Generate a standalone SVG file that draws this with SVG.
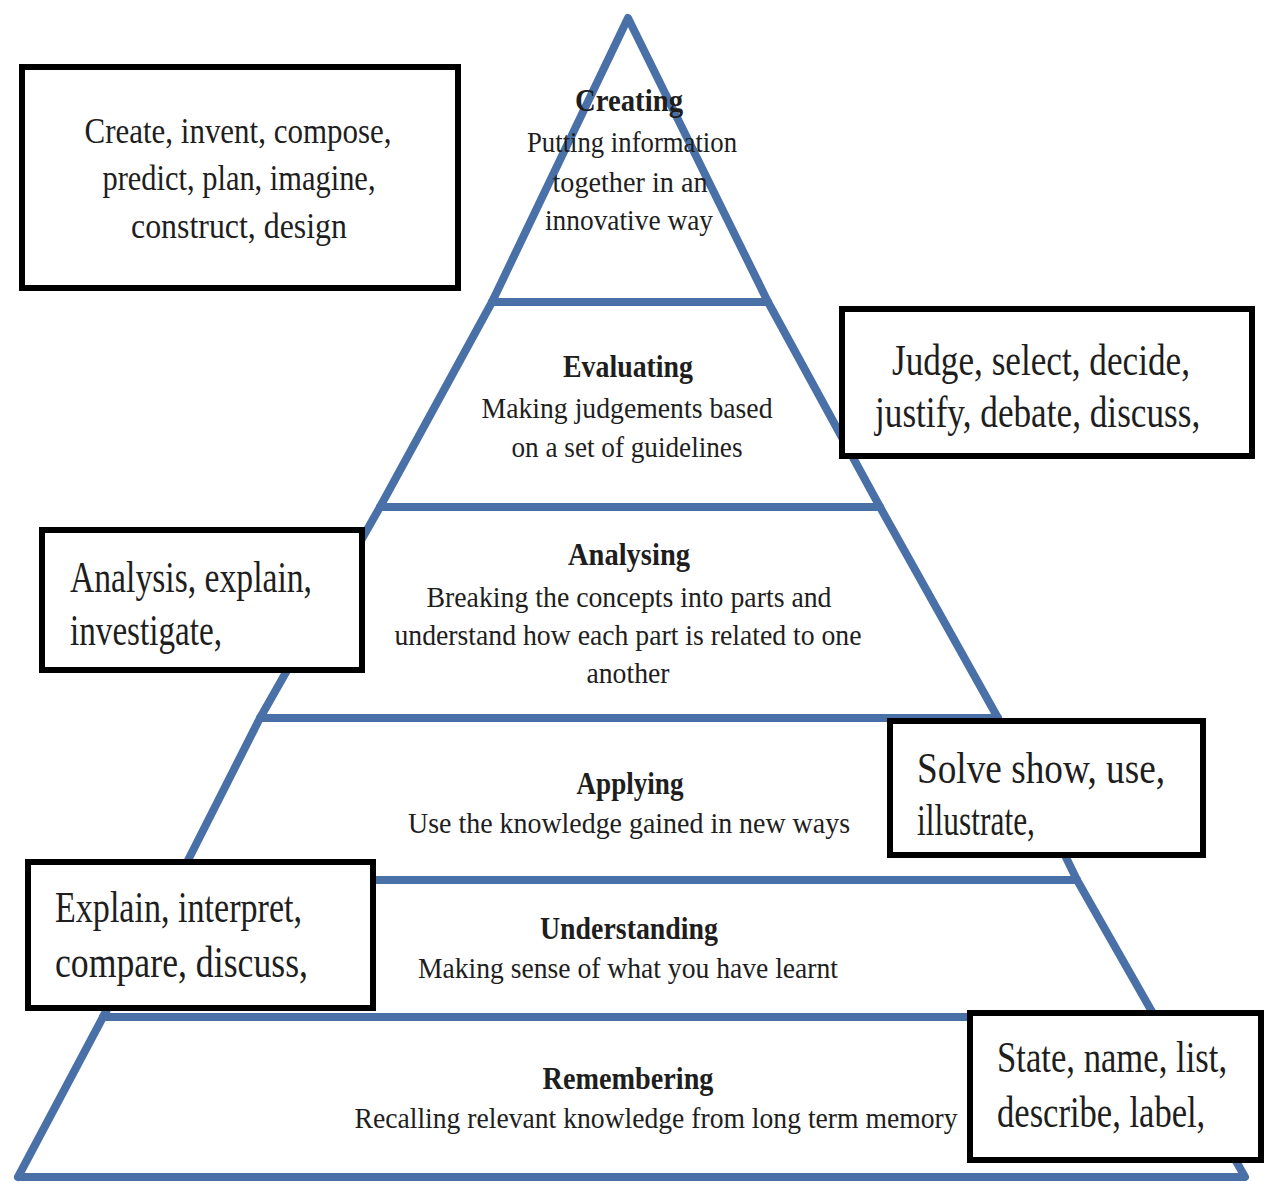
<svg xmlns="http://www.w3.org/2000/svg" width="1266" height="1184" viewBox="0 0 1266 1184">
<style>
  .edge{fill:none;stroke:#4a70a8;stroke-width:8;stroke-linejoin:round;stroke-linecap:round}
  .box{fill:#fff;stroke:#000;stroke-width:6}
  .t{font-family:"Liberation Serif","Times New Roman",serif;fill:#1e1e1e}
  .title{font-size:31px;font-weight:bold;text-anchor:middle}
  .desc{font-size:30px;text-anchor:middle}
  .bt{font-size:44px}
  .bs{font-size:36px;text-anchor:middle}
</style>
<rect width="1266" height="1184" fill="#fff"/>
<g id="pyramid-outline">
  <polyline class="edge" points="18,1177 103,1017 178,880 260,718 380,507 492,302 628,18 768,302 880,507 998,718 1077,880 1155,1017 1245,1177 18,1177"/>
  <line class="edge" x1="492" y1="302" x2="768" y2="302"/>
  <line class="edge" x1="380" y1="507" x2="880" y2="507"/>
  <line class="edge" x1="260" y1="718" x2="998" y2="718"/>
  <line class="edge" x1="178" y1="880" x2="1077" y2="880"/>
  <line class="edge" x1="103" y1="1017" x2="1155" y2="1017"/>
</g>
<g id="level-creating" class="t">
  <text class="title" x="629" y="111" textLength="108" lengthAdjust="spacingAndGlyphs">Creating</text>
  <text class="desc" x="632" y="152" textLength="210" lengthAdjust="spacingAndGlyphs">Putting information</text>
  <text class="desc" x="630" y="192" textLength="155" lengthAdjust="spacingAndGlyphs">together in an</text>
  <text class="desc" x="629" y="230" textLength="168" lengthAdjust="spacingAndGlyphs">innovative way</text>
</g>
<g id="level-evaluating" class="t">
  <text class="title" x="628" y="377" textLength="130" lengthAdjust="spacingAndGlyphs">Evaluating</text>
  <text class="desc" x="627" y="418" textLength="291" lengthAdjust="spacingAndGlyphs">Making judgements  based</text>
  <text class="desc" x="627" y="457" textLength="231" lengthAdjust="spacingAndGlyphs">on a set of guidelines</text>
</g>
<g id="level-analysing" class="t">
  <text class="title" x="629" y="565" textLength="122" lengthAdjust="spacingAndGlyphs">Analysing</text>
  <text class="desc" x="629" y="607" textLength="405" lengthAdjust="spacingAndGlyphs">Breaking  the concepts into parts and</text>
  <text class="desc" x="628" y="645" textLength="467" lengthAdjust="spacingAndGlyphs">understand how each part is related to one</text>
  <text class="desc" x="628" y="683" textLength="83" lengthAdjust="spacingAndGlyphs">another</text>
</g>
<g id="level-applying" class="t">
  <text class="title" x="630" y="794" textLength="107" lengthAdjust="spacingAndGlyphs">Applying</text>
  <text class="desc" x="629" y="833" textLength="442" lengthAdjust="spacingAndGlyphs">Use the knowledge  gained in new ways</text>
</g>
<g id="level-understanding" class="t">
  <text class="title" x="629" y="939" textLength="178" lengthAdjust="spacingAndGlyphs">Understanding</text>
  <text class="desc" x="628" y="978" textLength="420" lengthAdjust="spacingAndGlyphs">Making sense of what you have learnt</text>
</g>
<g id="level-remembering" class="t">
  <text class="title" x="628" y="1089" textLength="171" lengthAdjust="spacingAndGlyphs">Remembering</text>
  <text class="desc" x="656" y="1128" textLength="603" lengthAdjust="spacingAndGlyphs">Recalling  relevant knowledge from long term memory</text>
</g>
<g id="box-create">
  <rect class="box" x="22" y="67" width="436" height="221"/>
  <text class="t bs" x="238" y="143" textLength="307" lengthAdjust="spacingAndGlyphs">Create, invent, compose,</text>
  <text class="t bs" x="239" y="190" textLength="273" lengthAdjust="spacingAndGlyphs">predict, plan, imagine,</text>
  <text class="t bs" x="239" y="238" textLength="216" lengthAdjust="spacingAndGlyphs">construct, design</text>
</g>
<g id="box-judge">
  <rect class="box" x="842" y="309" width="410" height="147"/>
  <text class="t bt" transform="translate(892,375) scale(0.78,1)" textLength="382" lengthAdjust="spacingAndGlyphs">Judge, select, decide,</text>
  <text class="t bt" transform="translate(875,427) scale(0.78,1)" textLength="417" lengthAdjust="spacingAndGlyphs">justify, debate, discuss,</text>
</g>
<g id="box-analysis">
  <rect class="box" x="42" y="530" width="320" height="140"/>
  <text class="t bt" x="70" y="592" textLength="242" lengthAdjust="spacingAndGlyphs">Analysis, explain,</text>
  <text class="t bt" x="70" y="645" textLength="152" lengthAdjust="spacingAndGlyphs">investigate,</text>
</g>
<g id="box-solve">
  <rect class="box" x="890" y="721" width="313" height="134"/>
  <text class="t bt" x="917" y="783" textLength="248" lengthAdjust="spacingAndGlyphs">Solve  show, use,</text>
  <text class="t bt" x="917" y="835" textLength="118" lengthAdjust="spacingAndGlyphs">illustrate,</text>
</g>
<g id="box-explain">
  <rect class="box" x="28" y="862" width="345" height="146"/>
  <text class="t bt" x="55" y="922" textLength="247" lengthAdjust="spacingAndGlyphs">Explain, interpret,</text>
  <text class="t bt" x="55" y="977" textLength="253" lengthAdjust="spacingAndGlyphs">compare, discuss,</text>
</g>
<g id="box-state">
  <rect class="box" x="970" y="1013" width="291" height="147"/>
  <text class="t bt" transform="translate(997,1072) scale(0.78,1)" textLength="295" lengthAdjust="spacingAndGlyphs">State, name, list,</text>
  <text class="t bt" transform="translate(997,1127) scale(0.78,1)" textLength="267" lengthAdjust="spacingAndGlyphs">describe, label,</text>
</g>
</svg>
